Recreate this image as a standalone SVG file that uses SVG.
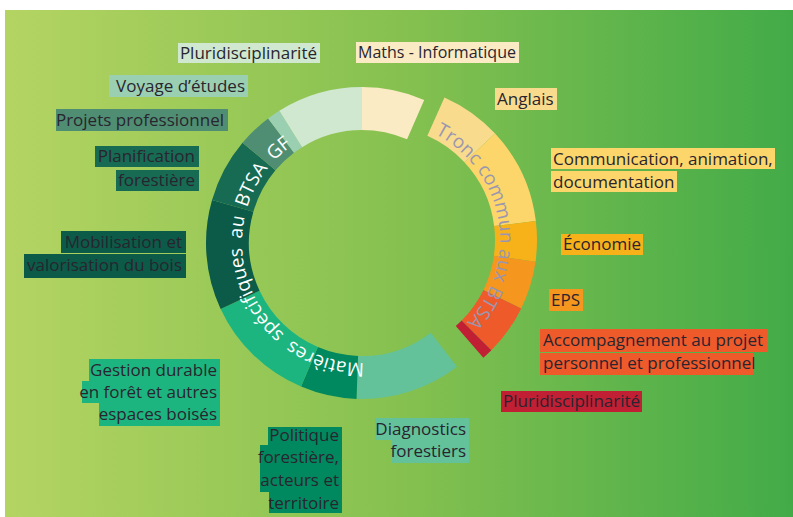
<svg xmlns="http://www.w3.org/2000/svg" width="793" height="517" viewBox="0 0 793 517">
<defs>
<linearGradient id="bg" x1="0" y1="0" x2="1" y2="0">
<stop offset="0" stop-color="#b4d462"/>
<stop offset="0.5" stop-color="#86c150"/>
<stop offset="1" stop-color="#42ab48"/>
</linearGradient>
<path id="leftArc" d="M364.09,362.98 A120,120 0 0 1 320.96,130.24"/>
<path id="rightArc" d="M435.03,133.97 A119,119 0 0 1 440.50,343.05"/>
<style>
.lbl{font-family:"Open Sans","Noto Sans","DejaVu Sans",sans-serif;font-size:17px;fill:#29252f}
.end{text-anchor:end}
.ring{font-family:"Open Sans","Noto Sans","DejaVu Sans",sans-serif;font-size:19px}
</style>
</defs>
<rect x="0" y="0" width="793" height="517" fill="#ffffff"/>
<rect x="5" y="10" width="788" height="507" fill="url(#bg)"/>

<g id="diagnostics">
<path d="M456.97,366.77 A156,156 0 0 1 356.56,398.91 L358.06,355.93 A113,113 0 0 0 430.79,332.65 Z" fill="#63c29a"/>
<rect x="375" y="418" width="94" height="22" fill="#63c29a"/>
<rect x="392" y="440" width="77" height="23" fill="#63c29a"/>
<text class="lbl end" x="466" y="434.5">Diagnostics</text>
<text class="lbl end" x="466" y="457">forestiers</text>
</g>
<g id="politique">
<path d="M356.56,398.91 A156,156 0 0 1 301.05,386.60 L317.85,347.02 A113,113 0 0 0 358.06,355.93 Z" fill="#00895e"/>
<rect x="268" y="427" width="74" height="18" fill="#00895e"/>
<rect x="260" y="445" width="82" height="23" fill="#00895e"/>
<rect x="260" y="468" width="82" height="24" fill="#00895e"/>
<rect x="269" y="492" width="73" height="21" fill="#00895e"/>
<text class="lbl end" x="339" y="441">Politique</text>
<text class="lbl end" x="339" y="463">forestière,</text>
<text class="lbl end" x="339" y="486">acteurs et</text>
<text class="lbl end" x="339" y="508.5">territoire</text>
</g>
<g id="gestion">
<path d="M301.05,386.60 A156,156 0 0 1 220.62,308.93 L259.59,290.75 A113,113 0 0 0 317.85,347.02 Z" fill="#1db57f"/>
<rect x="89" y="359" width="131" height="22" fill="#1db57f"/>
<rect x="82" y="381" width="138" height="22" fill="#1db57f"/>
<rect x="99" y="403" width="121" height="23" fill="#1db57f"/>
<text class="lbl end" x="217" y="375.5">Gestion durable</text>
<text class="lbl end" x="217" y="397.5">en forêt et autres</text>
<text class="lbl end" x="217" y="420">espaces boisés</text>
</g>
<g id="mobilisation">
<path d="M220.62,308.93 A156,156 0 0 1 212.04,200.00 L253.37,211.86 A113,113 0 0 0 259.59,290.75 Z" fill="#0b5b48"/>
<rect x="61" y="231" width="125" height="22" fill="#0b5b48"/>
<rect x="24" y="254" width="162" height="24" fill="#0b5b48"/>
<text class="lbl end" x="182" y="247.5">Mobilisation et</text>
<text class="lbl end" x="182" y="271">valorisation du bois</text>
</g>
<g id="planification">
<path d="M212.04,200.00 A156,156 0 0 1 242.50,142.72 L275.44,170.36 A113,113 0 0 0 253.37,211.86 Z" fill="#176b53"/>
<rect x="95" y="146" width="104" height="21" fill="#176b53"/>
<rect x="116" y="170" width="83" height="21" fill="#176b53"/>
<text class="lbl end" x="195" y="162">Planification</text>
<text class="lbl end" x="195" y="186">forestière</text>
</g>
<g id="projets">
<path d="M242.50,142.72 A156,156 0 0 1 268.12,118.42 L293.99,152.76 A113,113 0 0 0 275.44,170.36 Z" fill="#4f8e72"/>
<rect x="56" y="109" width="172" height="22" fill="#4f8e72"/>
<text class="lbl end" x="224" y="125.5">Projets professionnel</text>
</g>
<g id="voyage">
<path d="M268.12,118.42 A156,156 0 0 1 279.33,110.71 L302.12,147.18 A113,113 0 0 0 293.99,152.76 Z" fill="#9bcfb2"/>
<rect x="109" y="75" width="139" height="22" fill="#9bcfb2"/>
<text class="lbl end" x="245" y="91.5">Voyage d’études</text>
</g>
<g id="pluri-gf">
<path d="M279.33,110.71 A156,156 0 0 1 362,87 L362,130 A113,113 0 0 0 302.12,147.18 Z" fill="#cfe8cf"/>
<rect x="178" y="43" width="142" height="20" fill="#cfe8cf"/>
<text class="lbl end" x="317" y="58.5">Pluridisciplinarité</text>
</g>
<g id="maths">
<path d="M362,87 A156,156 0 0 1 424.20,99.93 L407.05,139.37 A113,113 0 0 0 362,130 Z" fill="#fbebc5"/>
<rect x="356" y="42" width="163" height="21" fill="#fbebc5"/>
<text class="lbl" x="358" y="58" textLength="158" lengthAdjust="spacingAndGlyphs">Maths - Informatique</text>
</g>
<g id="anglais">
<path d="M444.45,97.49 A156,156 0 0 1 495.10,133.61 L464.38,162.25 A114,114 0 0 0 427.36,135.86 Z" fill="#f9db8d"/>
<rect x="495" y="88" width="62" height="22" fill="#f9db8d"/>
<text class="lbl" x="497" y="104.5">Anglais</text>
</g>
<g id="communication">
<path d="M495.10,133.61 A156,156 0 0 1 535.83,220.98 L494.15,226.10 A114,114 0 0 0 464.38,162.25 Z" fill="#fcd66a"/>
<rect x="551" y="148" width="224" height="21" fill="#fcd66a"/>
<rect x="551" y="171" width="126" height="21" fill="#fcd66a"/>
<text class="lbl" x="553" y="164.5">Communication, animation,</text>
<text class="lbl" x="553" y="187.5">documentation</text>
</g>
<g id="economie">
<path d="M535.83,220.98 A156,156 0 0 1 535.49,261.72 L493.89,255.87 A114,114 0 0 0 494.15,226.10 Z" fill="#f7b21a"/>
<rect x="561" y="234" width="82" height="21" fill="#f7b21a"/>
<text class="lbl" x="563" y="250">Économie</text>
</g>
<g id="eps">
<path d="M535.49,261.72 A156,156 0 0 1 521.21,308.39 L483.46,289.98 A114,114 0 0 0 493.89,255.87 Z" fill="#f5961f"/>
<rect x="549" y="289" width="34" height="22" fill="#f5961f"/>
<text class="lbl" x="551" y="305.5">EPS</text>
</g>
<g id="accompagnement">
<path d="M521.21,308.39 A156,156 0 0 1 491.31,350.31 L461.61,320.61 A114,114 0 0 0 483.46,289.98 Z" fill="#ef5a2b"/>
<rect x="540" y="329" width="227" height="23" fill="#ef5a2b"/>
<rect x="540" y="353" width="214" height="22" fill="#ef5a2b"/>
<text class="lbl" x="543" y="346">Accompagnement au projet</text>
<text class="lbl" x="543" y="369">personnel et professionnel</text>
</g>
<g id="pluri-tronc">
<path d="M491.31,350.31 A156,156 0 0 1 483.35,357.73 L455.80,326.04 A114,114 0 0 0 461.61,320.61 Z" fill="#c11f34"/>
<rect x="501" y="391" width="141" height="21" fill="#c11f34"/>
<text class="lbl" x="503" y="407">Pluridisciplinarité</text>
</g>

<g id="ring-titles">
<text class="ring" fill="#ffffff" word-spacing="4"><textPath href="#leftArc">Matières spécifiques au BTSA GF</textPath></text>
<text class="ring" fill="#9b96b0"><textPath href="#rightArc">Tronc commun aux BTSA</textPath></text>
</g>
<g id="connectors"></g>
</svg>
